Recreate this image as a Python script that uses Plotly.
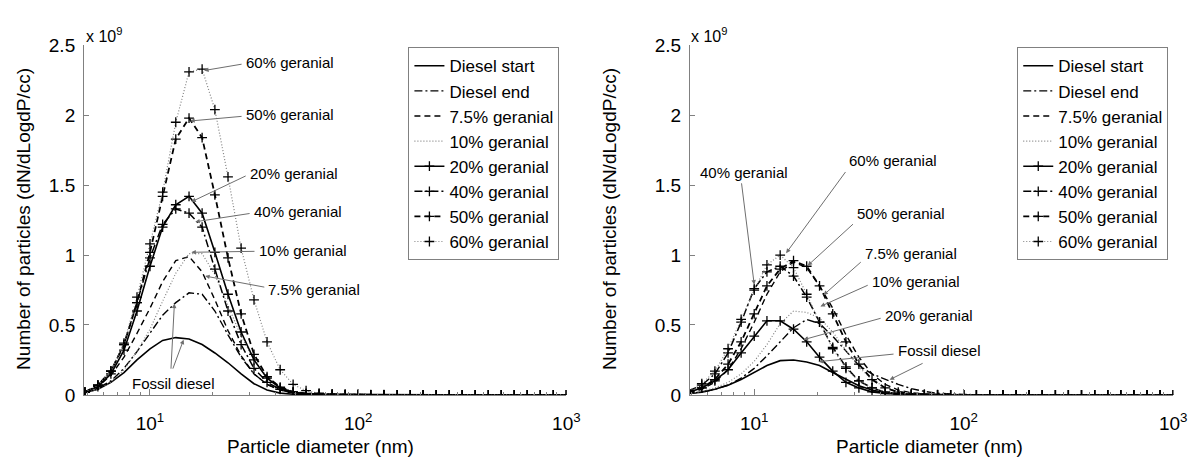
import math
import plotly.graph_objects as go

# particle diameter bins (nm)
DIAM = [4.87, 5.62, 6.49, 7.50, 8.66, 10.0, 11.5, 13.3, 15.4, 17.8, 20.5, 23.7, 27.4, 31.6, 36.5, 42.2, 48.7,
        56.2, 64.9, 75.0, 86.6, 100, 115, 133, 154, 178, 205, 237, 274, 316, 365, 422, 487, 562, 649, 750, 866, 1000]

NAMES = ["Diesel start", "Diesel end", "7.5% geranial", "10% geranial",
         "20% geranial", "40% geranial", "50% geranial", "60% geranial"]

# ---- left panel (x 10^9 dN/dLogdP/cc)
L_DIESEL_START = [0.015, 0.04, 0.09, 0.16, 0.25, 0.33, 0.39, 0.41, 0.40, 0.36, 0.30, 0.23, 0.15, 0.08, 0.035, 0.013,
                  0.005, 0.002, 0.001, 0.001, 0, 0, 0, 0, 0, 0, 0, 0, 0, 0, 0, 0, 0, 0, 0, 0, 0, 0]
L_DIESEL_END = [0.02, 0.05, 0.10, 0.19, 0.31, 0.44, 0.57, 0.66, 0.73, 0.72, 0.60, 0.43, 0.27, 0.15, 0.075, 0.035,
                0.015, 0.006, 0.003, 0.002, 0.001, 0.001, 0, 0, 0, 0, 0, 0, 0, 0, 0, 0, 0, 0, 0, 0, 0, 0]
L_G75 = [0.02, 0.06, 0.14, 0.27, 0.44, 0.62, 0.81, 0.96, 0.99, 0.88, 0.68, 0.46, 0.28, 0.15, 0.075, 0.035,
         0.015, 0.006, 0.003, 0.002, 0.001, 0.001, 0, 0, 0, 0, 0, 0, 0, 0, 0, 0, 0, 0, 0, 0, 0, 0]
L_G10 = [0.015, 0.04, 0.09, 0.18, 0.31, 0.47, 0.67, 0.87, 1.01, 1.01, 0.86, 0.64, 0.42, 0.25, 0.13, 0.06,
         0.025, 0.01, 0.005, 0.003, 0.002, 0.001, 0.001, 0, 0, 0, 0, 0, 0, 0, 0, 0, 0, 0, 0, 0, 0, 0]
L_G20 = [0.02, 0.06, 0.15, 0.32, 0.60, 0.92, 1.20, 1.36, 1.42, 1.30, 1.02, 0.72, 0.45, 0.25, 0.12, 0.05,
         0.02, 0.008, 0.004, 0.003, 0.002, 0.002, 0.001, 0.001, 0.001, 0.001, 0, 0, 0, 0, 0, 0, 0, 0, 0, 0, 0, 0]
L_G40 = [0.02, 0.07, 0.17, 0.36, 0.66, 0.98, 1.22, 1.33, 1.30, 1.20, 0.90, 0.60, 0.36, 0.19, 0.09, 0.04,
         0.016, 0.007, 0.004, 0.003, 0.002, 0.002, 0.001, 0.001, 0.001, 0.001, 0, 0, 0, 0, 0, 0, 0, 0, 0, 0, 0, 0]
L_G50 = [0.02, 0.07, 0.17, 0.36, 0.66, 1.02, 1.42, 1.83, 1.98, 1.84, 1.43, 0.98, 0.58, 0.29, 0.13, 0.055,
         0.022, 0.01, 0.005, 0.003, 0.002, 0.002, 0.001, 0.001, 0.001, 0.001, 0, 0, 0, 0, 0, 0, 0, 0, 0, 0, 0, 0]
L_G60 = [0.02, 0.07, 0.17, 0.37, 0.70, 1.08, 1.45, 1.95, 2.31, 2.33, 2.04, 1.56, 1.05, 0.68, 0.38, 0.18,
         0.075, 0.03, 0.012, 0.006, 0.004, 0.003, 0.002, 0.002, 0.001, 0.001, 0.001, 0, 0, 0, 0, 0, 0, 0, 0, 0, 0, 0]

# ---- right panel
R_DIESEL_START = [0.01, 0.02, 0.04, 0.07, 0.11, 0.16, 0.21, 0.245, 0.25, 0.235, 0.21, 0.16, 0.11, 0.065, 0.035, 0.016,
                  0.007, 0.003, 0.002, 0.001, 0, 0, 0, 0, 0, 0, 0, 0, 0, 0, 0, 0, 0, 0, 0, 0, 0, 0]
R_DIESEL_END = [0.01, 0.02, 0.04, 0.07, 0.12, 0.19, 0.28, 0.38, 0.48, 0.54, 0.51, 0.42, 0.31, 0.21, 0.15, 0.11,
                0.075, 0.045, 0.025, 0.012, 0.006, 0.003, 0.002, 0.001, 0, 0, 0, 0, 0, 0, 0, 0, 0, 0, 0, 0, 0, 0]
R_G75 = [0.015, 0.04, 0.09, 0.18, 0.33, 0.52, 0.72, 0.88, 0.95, 0.91, 0.78, 0.62, 0.43, 0.27, 0.15, 0.075,
         0.035, 0.015, 0.007, 0.004, 0.002, 0.001, 0, 0, 0, 0, 0, 0, 0, 0, 0, 0, 0, 0, 0, 0, 0, 0]
R_G10 = [0.01, 0.025, 0.05, 0.09, 0.15, 0.24, 0.36, 0.51, 0.60, 0.59, 0.55, 0.45, 0.32, 0.20, 0.11, 0.055,
         0.025, 0.011, 0.005, 0.003, 0.002, 0.001, 0, 0, 0, 0, 0, 0, 0, 0, 0, 0, 0, 0, 0, 0, 0, 0]
R_G20 = [0.02, 0.05, 0.10, 0.18, 0.30, 0.42, 0.53, 0.53, 0.47, 0.38, 0.27, 0.17, 0.09, 0.05, 0.022, 0.01,
         0.005, 0.002, 0.001, 0.001, 0.001, 0, 0, 0, 0, 0, 0, 0, 0, 0, 0, 0, 0, 0, 0, 0, 0, 0]
R_G40 = [0.03, 0.07, 0.15, 0.30, 0.52, 0.76, 0.88, 0.92, 0.85, 0.70, 0.52, 0.34, 0.20, 0.10, 0.05, 0.02,
         0.009, 0.004, 0.002, 0.001, 0.001, 0, 0, 0, 0, 0, 0, 0, 0, 0, 0, 0, 0, 0, 0, 0, 0, 0]
R_G50 = [0.02, 0.05, 0.11, 0.22, 0.38, 0.58, 0.78, 0.90, 0.96, 0.92, 0.78, 0.58, 0.38, 0.22, 0.11, 0.05,
         0.02, 0.009, 0.004, 0.002, 0.001, 0.001, 0, 0, 0, 0, 0, 0, 0, 0, 0, 0, 0, 0, 0, 0, 0, 0]
R_G60 = [0.03, 0.08, 0.17, 0.33, 0.54, 0.75, 0.93, 1.00, 0.91, 0.72, 0.52, 0.33, 0.19, 0.10, 0.05, 0.02,
         0.009, 0.004, 0.002, 0.001, 0.001, 0, 0, 0, 0, 0, 0, 0, 0, 0, 0, 0, 0, 0, 0, 0, 0, 0]

Y_TICKS = [0, 0.5, 1, 1.5, 2, 2.5]
Y_TICKTEXT = ["0", "0.5", "1", "1.5", "2", "2.5"]
X_TICKS = [10, 100, 1000]
X_TICKTEXT = ["10<sup>1</sup>", "10<sup>2</sup>", "10<sup>3</sup>"]
X_MINOR = [5, 6, 7, 8, 9, 20, 30, 40, 50, 60, 70, 80, 90, 200, 300, 400, 500, 600, 700, 800, 900]

# annotation labels: (text, x, y) in data units; arrows: (head x, head y, tail x, tail y)
L_LABELS = [("60% geranial", 28.2, 2.38), ("50% geranial", 28.2, 2.007), ("20% geranial", 29.5, 1.585),
            ("40% geranial", 30.8, 1.313), ("10% geranial", 32.5, 1.034), ("7.5% geranial", 36.2, 0.755),
            ("Fossil diesel", 8.04, 0.082)]
L_ARROWS = [(18.2, 2.32, 28.0, 2.367), (15.6, 1.959, 28.0, 1.993), (15.8, 1.381, 29.3, 1.571),
            (16.5, 1.238, 30.6, 1.299), (15.8, 1.02, 32.3, 1.027), (18.4, 0.85, 36.0, 0.769),
            (13.1, 0.653, 12.6, 0.177), (14.5, 0.395, 12.8, 0.177)]
R_LABELS = [("40% geranial", 5.38, 1.592), ("60% geranial", 27.8, 1.673), ("50% geranial", 30.3, 1.299),
            ("7.5% geranial", 33.0, 1.014), ("10% geranial", 35.6, 0.81), ("20% geranial", 41.0, 0.571),
            ("Fossil diesel", 47.3, 0.32)]
R_ARROWS = [(10.0, 0.789, 8.68, 1.524), (14.2, 1.014, 27.6, 1.605), (18.0, 0.925, 30.1, 1.231),
            (21.4, 0.714, 32.8, 0.959), (20.7, 0.633, 35.4, 0.789), (17.2, 0.395, 40.8, 0.551),
            (20.3, 0.238, 47.0, 0.293), (44.3, 0.109, 64.7, 0.231)]

FONT = "Liberation Sans, Arial, sans-serif"
DOT = "1px,2px"
DASH = "6px,4px"
DASHDOT = "8px,3px,2px,3px"
STYLES = [
    dict(dash="solid", color="black", width=1.6, mk=False),
    dict(dash=DASHDOT, color="black", width=1.4, mk=False),
    dict(dash=DASH, color="black", width=1.4, mk=False),
    dict(dash=DOT, color="#808080", width=1.2, mk=False),
    dict(dash="solid", color="black", width=1.6, mk=True),
    dict(dash=DASHDOT, color="black", width=1.5, mk=True),
    dict(dash=DASH, color="black", width=1.8, mk=True),
    dict(dash=DOT, color="#808080", width=1.2, mk=True),
]

LEFT_SERIES = [L_DIESEL_START, L_DIESEL_END, L_G75, L_G10, L_G20, L_G40, L_G50, L_G60]
RIGHT_SERIES = [R_DIESEL_START, R_DIESEL_END, R_G75, R_G10, R_G20, R_G40, R_G50, R_G60]

fig = go.Figure()


def add_series(series_list, xaxis, yaxis, legend):
    for name, vals, st in zip(NAMES, series_list, STYLES):
        fig.add_trace(go.Scatter(
            x=DIAM[:len(vals)], y=vals, name=name,
            mode="lines+markers" if st["mk"] else "lines",
            line=dict(color=st["color"], width=st["width"], dash=st["dash"]),
            marker=dict(symbol="cross-thin", size=7, color="black",
                        line=dict(width=1.3, color="black")),
            xaxis=xaxis, yaxis=yaxis, legend=legend,
        ))


add_series(LEFT_SERIES, "x", "y", "legend")
add_series(RIGHT_SERIES, "x2", "y2", "legend2")

ydom = [1 - 403 / 468, 1 - 37 / 468]
xax = dict(type="log", showline=True, linecolor="#808080", linewidth=1, ticks="inside", ticklen=6,
           tickcolor="#808080", tickvals=X_TICKS, ticktext=X_TICKTEXT, showgrid=False, zeroline=False,
           tickfont=dict(family=FONT, size=19, color="black"), ticklabelstandoff=11,
           minor=dict(tickvals=X_MINOR, ticks="inside", ticklen=3, tickcolor="#808080", showgrid=False))
yax = dict(range=[0, 2.5], showline=True, linecolor="#808080", linewidth=1, ticks="inside", ticklen=5,
           tickcolor="#808080", tickvals=Y_TICKS, ticktext=Y_TICKTEXT, showgrid=False, zeroline=False,
           tickfont=dict(family=FONT, size=19, color="black"), ticklabelstandoff=4)

LEG = dict(y=1 - 39 / 468, xanchor="right", yanchor="top", bgcolor="white",
           bordercolor="#808080", borderwidth=1, font=dict(family=FONT, size=17, color="black"),
           itemwidth=30, tracegroupgap=0)

fig.update_layout(
    width=1204, height=468, margin=dict(l=0, r=0, t=0, b=0),
    paper_bgcolor="white", plot_bgcolor="white",
    xaxis=dict(xax, domain=[85 / 1204, 573 / 1204], range=[math.log10(4.82), 3], anchor="y"),
    yaxis=dict(yax, domain=ydom, anchor="x"),
    xaxis2=dict(xax, domain=[698 / 1204, 1187 / 1204], range=[math.log10(4.93), 3], anchor="y2"),
    yaxis2=dict(yax, domain=ydom, anchor="x2"),
    legend=dict(LEG, x=566 / 1204),
    legend2=dict(LEG, x=1182 / 1204),
    showlegend=True,
)

ann = []
for labels, arrows, xr, yr in [(L_LABELS, L_ARROWS, "x", "y"), (R_LABELS, R_ARROWS, "x2", "y2")]:
    for txt, x, y in labels:
        ann.append(dict(text=txt, x=math.log10(x), y=y, xref=xr, yref=yr, showarrow=False,
                        xanchor="left", yanchor="middle", font=dict(family=FONT, size=15, color="black")))
    for hx, hy, tx, ty in arrows:
        ann.append(dict(text="", x=math.log10(hx), y=hy, xref=xr, yref=yr, showarrow=True,
                        ax=math.log10(tx), ay=ty, axref=xr, ayref=yr, arrowhead=2, arrowsize=0.9,
                        arrowwidth=1, arrowcolor="#6e6e6e", standoff=0, startstandoff=0))

# axis titles and exponent labels
for xc in [23 / 1204, 616 / 1204]:
    ann.append(dict(text="Number of particles (dN/dLogdP/cc)", x=xc, y=1 - 219 / 468, xref="paper",
                    yref="paper", showarrow=False, textangle=-90, xanchor="center", yanchor="middle",
                    font=dict(family=FONT, size=19, color="black")))
for xc in [324 / 1204, 940 / 1204]:
    ann.append(dict(text="Particle diameter (nm)", x=xc, y=1 - 457 / 468, xref="paper", yref="paper",
                    xanchor="center", yanchor="middle", showarrow=False,
                    font=dict(family=FONT, size=19, color="black")))
for xc in [85 / 1204, 697 / 1204]:
    ann.append(dict(text="x 10<sup>9</sup>", x=xc, y=1 - 26 / 468, xref="paper", yref="paper",
                    xanchor="left", yanchor="middle", showarrow=False,
                    font=dict(family=FONT, size=16, color="black")))

fig.update_layout(annotations=ann)
fig.write_html("out.html")
